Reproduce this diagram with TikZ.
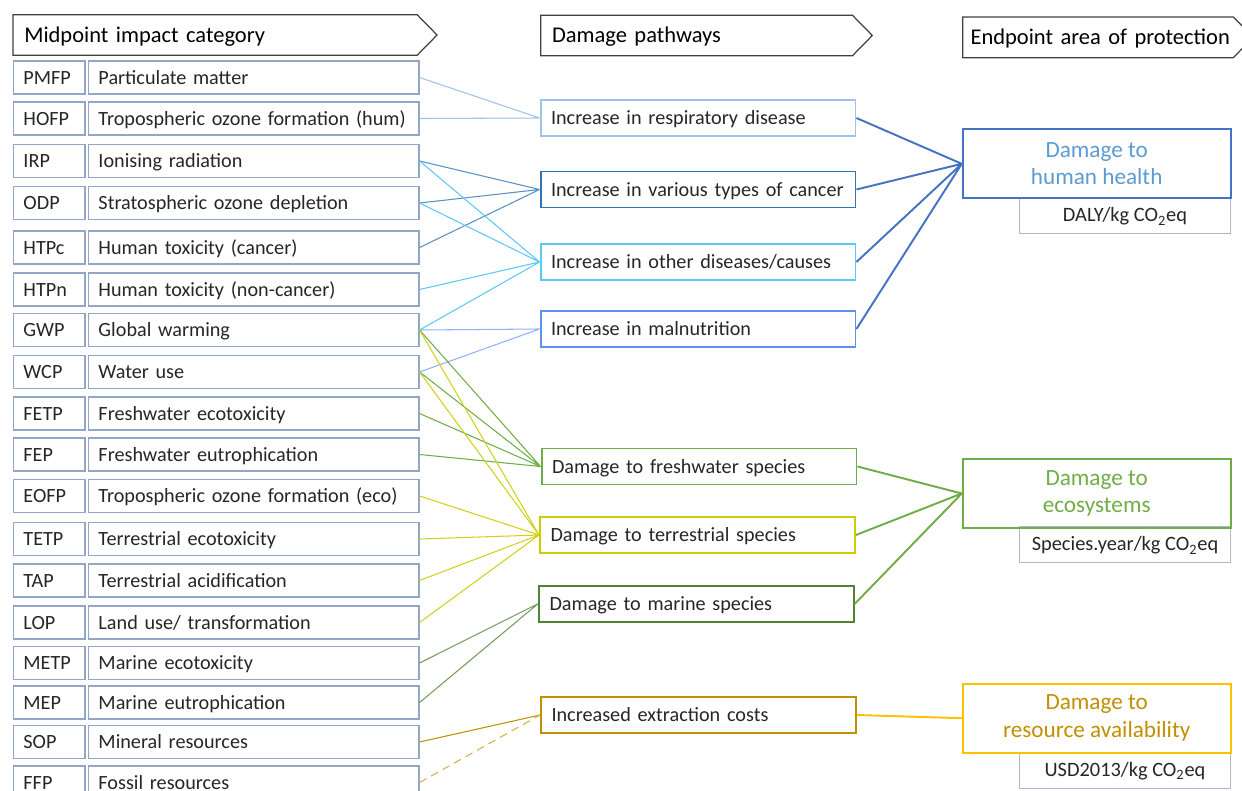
\documentclass[tikz,border=0pt]{standalone}
\usepackage{fontspec}
\setmainfont{Carlito}
\usepackage{xcolor}
\usepackage{tikz}
\usetikzlibrary{calc}

\definecolor{framegray}{RGB}{148,166,198}
\definecolor{unitgray}{RGB}{173,185,202}
\definecolor{respblue}{RGB}{157,195,230}
\definecolor{cancerblue}{RGB}{46,117,182}
\definecolor{otherblue}{RGB}{91,200,247}
\definecolor{malblue}{RGB}{95,145,245}
\definecolor{fwgreen}{RGB}{112,173,71}
\definecolor{terryellow}{RGB}{204,204,0}
\definecolor{marinegreen}{RGB}{84,130,53}
\definecolor{extrgold}{RGB}{191,144,0}
\definecolor{hhblue}{RGB}{68,114,196}
\definecolor{hhtext}{RGB}{91,155,213}
\definecolor{resgold}{RGB}{255,192,0}

\begin{document}
\begin{tikzpicture}[x=0.02cm, y=-0.02cm,
    every node/.style={font=\fontsize{11.5}{14}\selectfont, text=black!85},
    nowrap/.style={execute at begin node={\hbox\bgroup}, execute at end node={\egroup}},
    headbox/.style={nowrap, minimum height=0.8cm, inner xsep=0.22cm, inner ysep=0pt, text width=#1, align=left,
        text height=9.8pt, text depth=1.6pt, font=\fontsize{12.8}{15}\selectfont, text=black},
    headline/.style={draw=black!75, line width=0.7pt},
    abbox/.style={nowrap, draw=framegray, line width=0.75pt, minimum height=0.66cm, inner xsep=0.2cm, inner ysep=0pt,
        text width=1.03cm, align=left, text height=8.9pt, text depth=1.5pt},
    descbox/.style={abbox, inner xsep=0.2cm, text width=6.21cm},
    pathbox/.style={nowrap, draw=#1, line width=1.1pt, minimum height=0.72cm, inner xsep=0.21cm, inner ysep=0pt,
        text width=5.88cm, align=left, text height=8.9pt, text depth=1.5pt},
    endbox/.style={draw=#1, line width=1.1pt, minimum width=5.36cm, minimum height=1.38cm, align=center,
        font=\fontsize{13.2}{15.7}\selectfont},
    unitbox/.style={draw=unitgray, line width=0.6pt, minimum width=4.23cm, minimum height=0.72cm, inner ysep=0pt,
        text height=9pt, text depth=1.5pt, font=\fontsize{11.6}{13.5}\selectfont},
    link/.style={draw=#1, line width=0.6pt},
    trunk/.style={draw=#1, line width=1.1pt}]
    \useasboundingbox (0,0) rectangle (1242,791);

    % Column headers
    \node[headbox=7.63cm] (midhead) at (215,35) {Midpoint impact category};
    \node[headbox=5.78cm] (pathhead) at (696.5,35.5) {Damage pathways};
    \node[headbox=5.1cm, inner xsep=0.15cm] (endhead) at (1098,37.3) {Endpoint area of protection};
    \draw[headline] (midhead.north west) -- (midhead.north east) -- ($(midhead.east)+(20,0)$) -- (midhead.south east) -- (midhead.south west) -- cycle;
    \draw[headline] (pathhead.north west) -- (pathhead.north east) -- ($(pathhead.east)+(20,0)$) -- (pathhead.south east) -- (pathhead.south west) -- cycle;
    \draw[headline] (endhead.north west) -- (endhead.north east) -- ($(endhead.east)+(20,0)$) -- (endhead.south east) -- (endhead.south west) -- cycle;

    % Midpoint impact categories
    \node[abbox] (PMFP-ab) at (49.2,77.5) {PMFP};  \node[descbox] (PMFP) at (253.7,77.5) {Particulate matter};
    \node[abbox] (HOFP-ab) at (49.2,118.5) {HOFP}; \node[descbox] (HOFP) at (253.7,118.5) {Tropospheric ozone formation (hum)};
    \node[abbox] (IRP-ab) at (49.2,161) {IRP};     \node[descbox] (IRP) at (253.7,161) {Ionising radiation};
    \node[abbox] (ODP-ab) at (49.2,203) {ODP};     \node[descbox] (ODP) at (253.7,203) {Stratospheric ozone depletion};
    \node[abbox] (HTPc-ab) at (49.2,247.5) {HTPc}; \node[descbox] (HTPc) at (253.7,247.5) {Human toxicity (cancer)};
    \node[abbox] (HTPn-ab) at (49.2,289.5) {HTPn}; \node[descbox] (HTPn) at (253.7,289.5) {Human toxicity (non-cancer)};
    \node[abbox] (GWP-ab) at (49.2,330) {GWP};     \node[descbox] (GWP) at (253.7,330) {Global warming};
    \node[abbox] (WCP-ab) at (49.2,372) {WCP};     \node[descbox] (WCP) at (253.7,372) {Water use};
    \node[abbox] (FETP-ab) at (49.2,413.5) {FETP}; \node[descbox] (FETP) at (253.7,413.5) {Freshwater ecotoxicity};
    \node[abbox] (FEP-ab) at (49.2,454.5) {FEP};   \node[descbox] (FEP) at (253.7,454.5) {Freshwater eutrophication};
    \node[abbox] (EOFP-ab) at (49.2,496) {EOFP};   \node[descbox] (EOFP) at (253.7,496) {Tropospheric ozone formation (eco)};
    \node[abbox] (TETP-ab) at (49.2,539) {TETP};   \node[descbox] (TETP) at (253.7,539) {Terrestrial ecotoxicity};
    \node[abbox] (TAP-ab) at (49.2,580.5) {TAP};   \node[descbox] (TAP) at (253.7,580.5) {Terrestrial acidification};
    \node[abbox] (LOP-ab) at (49.2,622.5) {LOP};   \node[descbox] (LOP) at (253.7,622.5) {Land use/ transformation};
    \node[abbox] (METP-ab) at (49.2,663) {METP};   \node[descbox] (METP) at (253.7,663) {Marine ecotoxicity};
    \node[abbox] (MEP-ab) at (49.2,702.5) {MEP};   \node[descbox] (MEP) at (253.7,702.5) {Marine eutrophication};
    \node[abbox] (SOP-ab) at (49.2,742) {SOP};     \node[descbox] (SOP) at (253.7,742) {Mineral resources};
    \node[abbox] (FFP-ab) at (49.2,782.5) {FFP};   \node[descbox] (FFP) at (253.7,782.5) {Fossil resources};

    % Damage pathways
    \node[pathbox=respblue] (resp) at (698,118) {Increase in respiratory disease};
    \node[pathbox=cancerblue] (cancer) at (698,189.5) {Increase in various types of cancer};
    \node[pathbox=otherblue] (other) at (698,262) {Increase in other diseases/causes};
    \node[pathbox=malblue] (malnut) at (698,329) {Increase in malnutrition};
    \node[pathbox=fwgreen] (fresh) at (699,466.5) {Damage to freshwater species};
    \node[pathbox=terryellow] (terr) at (697.5,535) {Damage to terrestrial species};
    \node[pathbox=marinegreen] (marine) at (696.5,603.7) {Damage to marine species};
    \node[pathbox=extrgold] (extract) at (698.5,715) {Increased extraction costs};

    % Endpoints with their units
    \node[unitbox] (healthunit) at (1125,215.3) {DALY/kg CO\textsubscript{2}eq};
    \node[unitbox] (ecounit) at (1125,544.3) {Species.year/kg CO\textsubscript{2}eq};
    \node[unitbox] (resunit) at (1125,770.2) {USD2013/kg CO\textsubscript{2}eq};
    \node[endbox=hhblue, text=hhtext] (health) at (1096.7,163.8) {Damage to\\human health};
    \node[endbox=fwgreen, text=fwgreen] (eco) at (1096.7,493.5) {Damage to\\ecosystems};
    \node[endbox=resgold, text=extrgold] (resource) at (1096.7,718.2) {Damage to\\resource availability};

    % Midpoints to pathways
    \draw[link=respblue] (PMFP.east) -- (resp.west) (HOFP.east) -- (resp.west);
    \draw[link=cancerblue!80] (IRP.east) -- (cancer.west) (ODP.east) -- (cancer.west) (HTPc.east) -- (cancer.west);
    \draw[link=otherblue] (IRP.east) -- (other.west) (ODP.east) -- (other.west) (HTPn.east) -- (other.west) (GWP.east) -- (other.west);
    \draw[link=malblue!70] (GWP.east) -- (malnut.west) (WCP.east) -- (malnut.west);
    \draw[link=fwgreen] (GWP.east) -- (fresh.west) (WCP.east) -- (fresh.west) (FETP.east) -- (fresh.west) (FEP.east) -- (fresh.west);
    \draw[link=terryellow!90] (GWP.east) -- (terr.west) (WCP.east) -- (terr.west) (EOFP.east) -- (terr.west)
        (TETP.east) -- (terr.west) (TAP.east) -- (terr.west) (LOP.east) -- (terr.west);
    \draw[link=marinegreen!80] (METP.east) -- (marine.west) (MEP.east) -- (marine.west);
    \draw[link=extrgold] (SOP.east) -- (extract.west);
    \draw[link=extrgold!70, dash pattern=on 4.5pt off 3pt] (FFP.east) -- (extract.west);

    % Pathways to endpoints
    \draw[trunk=hhblue] (resp.east) -- (health.west) (cancer.east) -- (health.west) (other.east) -- (health.west) (malnut.east) -- (health.west);
    \draw[trunk=fwgreen] (fresh.east) -- (eco.west) (terr.east) -- (eco.west) (marine.east) -- (eco.west);
    \draw[trunk=resgold] (extract.east) -- (resource.west);
\end{tikzpicture}
\end{document}
